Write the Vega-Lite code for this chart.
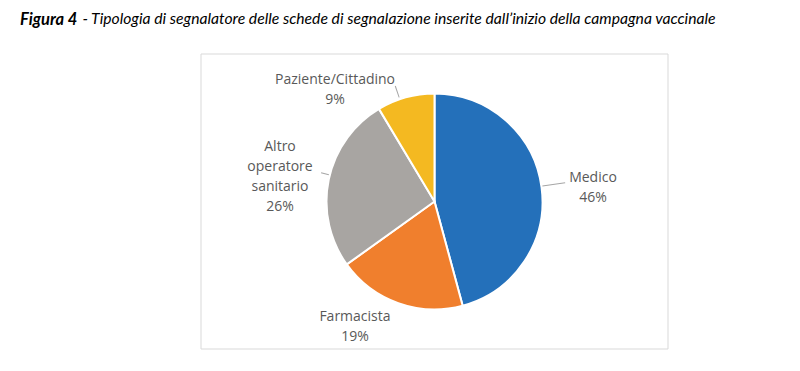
{
  "$schema": "https://vega.github.io/schema/vega-lite/v6.json",
  "width": 467,
  "height": 295,
  "autosize": {"type": "none"},
  "padding": {"left": 201, "top": 54, "right": 132, "bottom": 22},
  "background": "white",
  "title": {
    "text": "Figura 4",
    "subtitle": "\u200b\u00a0\u00a0\u00a0\u00a0\u00a0\u00a0\u00a0\u00a0\u00a0\u00a0\u00a0\u00a0\u00a0\u00a0\u00a0\u00a0\u00a0- Tipologia di segnalatore delle schede di segnalazione inserite dall’inizio della campagna vaccinale",
    "anchor": "start",
    "frame": "group",
    "dx": -181,
    "dy": 27,
    "offset": 30,
    "font": "Lato",
    "fontSize": 16.5,
    "fontStyle": "italic",
    "fontWeight": "bold",
    "color": "#000000",
    "subtitleFont": "Lato",
    "subtitleFontSize": 15.7,
    "subtitleFontStyle": "italic",
    "subtitleFontWeight": "normal",
    "subtitleColor": "#000000",
    "subtitlePadding": -16.5
  },
  "data": {
    "values": [
      {"categoria": "Medico", "quota": 45.8, "etichetta": "Medico\n46%", "ordine": 1},
      {"categoria": "Farmacista", "quota": 19.3, "etichetta": "Farmacista\n19%", "ordine": 2},
      {"categoria": "Altro operatore sanitario", "quota": 26.3, "etichetta": "Altro\noperatore\nsanitario\n26%", "ordine": 3},
      {"categoria": "Paziente/Cittadino", "quota": 8.6, "etichetta": "Paziente/Cittadino\n9%", "ordine": 4}
    ]
  },
  "encoding": {
    "theta": {"field": "quota", "type": "quantitative", "stack": true},
    "order": {"field": "ordine", "type": "quantitative"}
  },
  "layer": [
    {
      "data": {"values": [{}]},
      "mark": {"type": "rect", "fill": null, "stroke": "#d9d9d9", "strokeWidth": 1},
      "encoding": {"theta": null, "order": null}
    },
    {
      "mark": {"type": "arc", "outerRadius": 108, "stroke": "white", "strokeWidth": 2},
      "encoding": {
        "color": {
          "field": "categoria",
          "type": "nominal",
          "scale": {
            "domain": ["Medico", "Farmacista", "Altro operatore sanitario", "Paziente/Cittadino"],
            "range": ["#2470BA", "#F07F2D", "#A8A5A2", "#F4B921"]
          },
          "legend": null
        }
      }
    },
    {
      "transform": [
        {"stack": "quota", "groupby": [], "sort": [{"field": "ordine", "order": "ascending"}], "as": ["s0", "s1"]},
        {"filter": "datum.categoria === 'Medico'"}
      ],
      "mark": {"type": "arc", "innerRadius": 109, "outerRadius": 132, "thetaOffset": 1.4242, "theta2Offset": 1.4329, "fill": "#a6a6a6"},
      "encoding": {
        "theta": {"field": "s0", "type": "quantitative", "stack": null},
        "theta2": {"field": "s0"},
        "order": null
      }
    },
    {
      "transform": [
        {"stack": "quota", "groupby": [], "sort": [{"field": "ordine", "order": "ascending"}], "as": ["s0", "s1"]},
        {"filter": "datum.categoria === 'Altro operatore sanitario'"}
      ],
      "mark": {"type": "arc", "innerRadius": 109, "outerRadius": 117, "thetaOffset": 0.8664, "theta2Offset": 0.8751, "fill": "#a6a6a6"},
      "encoding": {
        "theta": {"field": "s0", "type": "quantitative", "stack": null},
        "theta2": {"field": "s0"},
        "order": null
      }
    },
    {
      "transform": [
        {"stack": "quota", "groupby": [], "sort": [{"field": "ordine", "order": "ascending"}], "as": ["s0", "s1"]},
        {"filter": "datum.categoria === 'Paziente/Cittadino'"}
      ],
      "mark": {"type": "arc", "innerRadius": 110, "outerRadius": 122, "thetaOffset": 0.2086, "theta2Offset": 0.2173, "fill": "#a6a6a6"},
      "encoding": {
        "theta": {"field": "s0", "type": "quantitative", "stack": null},
        "theta2": {"field": "s0"},
        "order": null
      }
    },
    {
      "mark": {"type": "text", "radius": 160.2, "thetaOffset": -0.0152, "font": "Open Sans", "fontSize": 14, "color": "#595959", "lineBreak": "\n", "lineHeight": 20, "baseline": "middle"},
      "encoding": {"text": {"field": "etichetta", "type": "nominal", "condition": {"test": "datum.categoria !== 'Medico'", "value": ""}}}
    },
    {
      "mark": {"type": "text", "radius": 140.2, "thetaOffset": 0.2608, "font": "Open Sans", "fontSize": 14, "color": "#595959", "lineBreak": "\n", "lineHeight": 20, "baseline": "middle"},
      "encoding": {"text": {"field": "etichetta", "type": "nominal", "condition": {"test": "datum.categoria !== 'Farmacista'", "value": ""}}}
    },
    {
      "mark": {"type": "text", "radius": 163.8, "thetaOffset": 0.1349, "font": "Open Sans", "fontSize": 14, "color": "#595959", "lineBreak": "\n", "lineHeight": 20, "baseline": "middle"},
      "encoding": {"text": {"field": "etichetta", "type": "nominal", "condition": {"test": "datum.categoria !== 'Altro operatore sanitario'", "value": ""}}}
    },
    {
      "mark": {"type": "text", "radius": 157.0, "thetaOffset": -0.4159, "font": "Open Sans", "fontSize": 14, "color": "#595959", "lineBreak": "\n", "lineHeight": 20, "baseline": "middle"},
      "encoding": {"text": {"field": "etichetta", "type": "nominal", "condition": {"test": "datum.categoria !== 'Paziente/Cittadino'", "value": ""}}}
    }
  ]
}
